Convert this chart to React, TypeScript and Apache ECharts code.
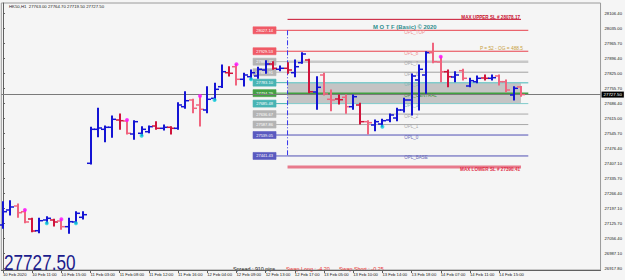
import { useEffect, useRef } from "react";
import * as echarts from "echarts";

const FONT = '"Liberation Sans", Arial, sans-serif';

const symbolName = "HK50,H1";
const timeLabels = [
  "10 Feb 2020", "10 Feb 11:00", "10 Feb 15:00", "11 Feb 03:00", "11 Feb 08:00", "11 Feb 12:00",
  "11 Feb 16:00", "12 Feb 04:00", "12 Feb 09:00", "12 Feb 13:00", "12 Feb 17:00", "13 Feb 05:00",
  "13 Feb 10:00", "13 Feb 14:00", "13 Feb 18:00", "14 Feb 07:00", "14 Feb 11:00", "14 Feb 15:00",
];
const LABEL_STEP = 4;

const priceTicks = [
  28106.4, 28035.0, 27965.7, 27896.4, 27825.0, 27755.7, 27686.4, 27615.0, 27545.7,
  27476.4, 27407.1, 27335.7, 27266.4, 27197.1, 27125.7, 27056.4, 26987.1, 26917.8,
];

const opens = [
  27119.7, 27189.6, 27208.2, 27181.7, 27147.6, 27093.1, 27143.0, 27143.0, 27138.3, 27111.8, 27133.7, 27155.6,
  27407.3, 27565.7, 27565.7, 27575.1, 27609.1, 27604.4, 27543.8, 27547.1, 27554.5, 27581.1, 27570.4, 27575.1,
  27570.4, 27671.1, 27702.3, 27679.0, 27655.7, 27710.2, 27764.3, 27829.5, 27857.5, 27798.8, 27810.9, 27814.2,
  27842.1, 27870.1, 27845.4, 27850.1, 27829.5, 27876.2, 27888.7, 27739.6, 27818.8, 27705.6, 27707.0, 27714.9,
  27671.1, 27679.0, 27601.2, 27585.8, 27590.4, 27609.1, 27618.4, 27655.7, 27702.3, 27795.5, 27818.8, 27922.8,
  27879.4, 27834.2, 27809.5, 27838.9, 27767.6, 27787.6, 27804.9, 27803.5, 27814.2, 27787.6, 27725.6, 27763.0,
];
const highs = [
  27228.3, 27232.9, 27217.6, 27189.6, 27150.9, 27150.9, 27158.4, 27146.2, 27146.2, 27150.9, 27181.7, 27181.7,
  27575.1, 27663.6, 27581.1, 27627.7, 27637.0, 27609.1, 27605.8, 27577.9, 27581.1, 27601.2, 27585.8, 27577.9,
  27689.7, 27741.0, 27705.6, 27720.9, 27764.3, 27780.1, 27865.4, 27857.5, 27868.7, 27826.8, 27842.1, 27854.7,
  27885.5, 27880.8, 27860.8, 27876.2, 27888.7, 27922.8, 27892.0, 27810.9, 27826.8, 27748.9, 27725.6, 27725.6,
  27725.6, 27686.9, 27605.8, 27609.1, 27612.3, 27637.0, 27663.6, 27710.2, 27823.5, 27865.4, 27927.4, 27966.6,
  27904.1, 27842.1, 27834.2, 27845.4, 27803.5, 27814.2, 27818.8, 27818.8, 27818.8, 27795.5, 27764.3, 27764.7,
];
const lows = [
  27104.3, 27166.3, 27155.6, 27130.4, 27088.5, 27083.8, 27127.6, 27115.0, 27099.6, 27081.0, 27127.6, 27147.6,
  27404.0, 27531.2, 27507.9, 27528.4, 27565.7, 27543.8, 27519.1, 27535.9, 27549.9, 27565.7, 27562.5, 27543.8,
  27565.7, 27663.6, 27643.1, 27581.1, 27643.1, 27702.3, 27760.0, 27814.2, 27772.2, 27767.6, 27798.8, 27803.5,
  27826.8, 27845.4, 27838.9, 27826.8, 27810.9, 27873.4, 27736.3, 27659.0, 27725.6, 27652.4, 27683.7, 27640.3,
  27659.0, 27590.4, 27543.8, 27559.2, 27577.9, 27601.2, 27605.8, 27646.4, 27632.4, 27655.7, 27733.5, 27876.2,
  27787.6, 27764.3, 27787.6, 27795.5, 27764.3, 27782.9, 27795.5, 27795.5, 27772.2, 27741.0, 27702.3, 27719.5,
];
const closes = [
  27181.7, 27203.6, 27177.0, 27133.7, 27091.7, 27139.7, 27150.9, 27133.7, 27111.8, 27135.1, 27174.2, 27167.7,
  27565.7, 27571.8, 27575.1, 27612.3, 27605.8, 27547.1, 27601.2, 27565.7, 27577.9, 27570.4, 27575.1, 27570.4,
  27679.0, 27699.0, 27663.6, 27659.0, 27705.6, 27752.2, 27834.2, 27826.8, 27798.8, 27818.8, 27829.5, 27845.4,
  27870.1, 27850.1, 27850.1, 27842.1, 27857.5, 27916.7, 27741.0, 27761.5, 27730.3, 27702.3, 27703.7, 27671.1,
  27717.7, 27601.2, 27596.5, 27601.2, 27605.8, 27632.4, 27655.7, 27702.3, 27814.2, 27845.4, 27922.8, 27880.8,
  27834.2, 27810.9, 27818.8, 27803.5, 27792.3, 27803.5, 27803.5, 27806.3, 27787.6, 27748.9, 27756.8, 27727.5,
];
// u = up bar, d = down bar, p = down bar (light)
const barTones = [
  "u", "u", "p", "p", "d", "u", "u", "d", "p", "u", "u", "u",
  "u", "u", "u", "u", "d", "p", "u", "u", "u", "d", "u", "d",
  "u", "u", "p", "p", "u", "u", "u", "d", "p", "u", "u", "u",
  "u", "d", "u", "d", "u", "u", "d", "u", "p", "p", "d", "p",
  "u", "d", "p", "u", "u", "u", "u", "u", "u", "u", "u", "p",
  "p", "d", "u", "p", "u", "u", "d", "u", "p", "p", "u", "p",
];
const upMarkBars = [3, 8, 17, 27, 32, 60];
const downMarkBars = [6, 10, 19, 29, 34, 52];

const levelNames = ["OPL_TOP", "OPL_8", "OPL_7", "OPL_6", "OPL_5", "OPL_CENTRAL", "OPL_3", "OPL_2", "OPL_1", "OPL_0", "OPL_BASE"];
const levelPrices = [28027.14, 27929.53, 27880.72, 27831.91, 27783.1, 27734.29, 27685.48, 27636.67, 27587.86, 27539.05, 27441.43];
const stopNames = ["MAX UPPER SL", "MAX LOWER SL"];
const stopPrices = [28078.17, 27390.41];
const spreadPips = 910;
const swapLong = -4.2;
const swapShort = -0.25;
const periodText = "P = 52 - OG = 488.5";

const LEVEL_FROM = 39;
const LEVEL_TO = 72;
const ZONE_TO = 71;
const LABEL_AT = 55;

const barColors: Record<string, string> = { u: "#1414d4", d: "#d0143c", p: "#f0647e" };
const lvLine = ["#e8404c", "#e8404c", "#c8c8c8", "#a0a0a0", "#80cccc", "#40a040", "#80cccc", "#a8a8a8", "#a8a8a8", "#5050b4", "#5050b4"];
const lvWidth = [1, 1, 2.5, 1, 1.5, 1.5, 1, 1, 1, 1, 1];
const lvBox = ["#f05a66", "#f05a66", "#b4b4b4", "#b4b4b4", "#48b4b4", "#44a044", "#48b4b4", "#b4b4b4", "#b4b4b4", "#5a5ac0", "#5a5ac0"];
const lvText = ["#f09090", "#f09090", "#a8a8a8", "#a8a8a8", "#80b4b4", "#3c8c3c", "#80b4b4", "#a8a8a8", "#a8a8a8", "#6a6ab8", "#6a6ab8"];

export default function App() {
  const ref = useRef<HTMLDivElement>(null);
  useEffect(() => {
    if (!ref.current) return;
    const chart = echarts.init(ref.current, undefined, { renderer: "svg" });
    const n = closes.length;
    const last = n - 1;
    const bars = closes.map((c, i) => [i, opens[i], highs[i], lows[i], c]);
    const xMin = -0.232;
    const xMax = 81.9;

    const option: any = {
      animation: false,
      backgroundColor: "#f5f5f5",
      textStyle: { fontFamily: FONT },
      grid: { left: 1, right: 22, top: 3, bottom: 10, show: true, borderColor: "#9a9a9a", borderWidth: 1 },
      xAxis: {
        type: "value",
        min: xMin,
        max: xMax,
        splitLine: { show: false },
        axisLine: { lineStyle: { color: "#606060" } },
        axisTick: { customValues: timeLabels.map((_, k) => k * LABEL_STEP), length: 3, lineStyle: { color: "#606060" } },
        axisLabel: {
          customValues: timeLabels.map((_, k) => k * LABEL_STEP),
          formatter: (v: number) => timeLabels[Math.round(v / LABEL_STEP)] ?? "",
          align: "left",
          margin: 2,
          fontSize: 4.2,
          color: "#202020",
          fontFamily: FONT,
        },
      },
      yAxis: {
        type: "value",
        position: "right",
        min: 26909.9,
        max: 28154.4,
        splitLine: { show: false },
        axisLine: { show: true, lineStyle: { color: "#606060" } },
        axisTick: { show: true, customValues: priceTicks, length: 2, lineStyle: { color: "#606060" } },
        axisLabel: {
          customValues: priceTicks,
          formatter: (v: number) => v.toFixed(2),
          margin: 4,
          fontSize: 4.2,
          color: "#202020",
          fontFamily: FONT,
        },
      },
      series: [
        {
          type: "custom",
          name: "zone",
          z: 1,
          data: [[LEVEL_FROM, levelPrices[4], levelPrices[6]]],
          encode: { x: 0, y: [1, 2] },
          renderItem: (_p: any, api: any) => {
            const a = api.coord([LEVEL_FROM, api.value(1)]);
            const b = api.coord([ZONE_TO, api.value(2)]);
            return { type: "rect", shape: { x: a[0], y: a[1], width: b[0] - a[0], height: b[1] - a[1] }, style: { fill: "#c4c4c4" } };
          },
        },
        {
          type: "custom",
          name: "levels",
          z: 2,
          data: levelPrices.map((p, k) => [LEVEL_FROM, p, k]),
          encode: { x: 0, y: 1 },
          renderItem: (params: any, api: any) => {
            const k = params.dataIndex;
            const p = api.value(1);
            const a = api.coord([LEVEL_FROM, p]);
            const b = api.coord([LEVEL_TO, p]);
            const t = api.coord([LABEL_AT, p]);
            const y = a[1];
            const boxR = a[0] - 11.5;
            const boxW = 23;
            const boxH = 7;
            return {
              type: "group",
              children: [
                { type: "line", shape: { x1: a[0], y1: y, x2: b[0], y2: y }, style: { stroke: lvLine[k], lineWidth: lvWidth[k] } },
                { type: "line", shape: { x1: boxR, y1: y, x2: a[0], y2: y }, style: { stroke: lvBox[k], lineWidth: 1 } },
                { type: "rect", shape: { x: boxR - boxW, y: y - boxH / 2, width: boxW, height: boxH }, style: { fill: lvBox[k], stroke: lvBox[k], lineWidth: 0.6 } },
                { type: "text", x: boxR - boxW / 2, y: y, style: { text: p.toFixed(2), fill: "#ffffff", font: `4px ${FONT}`, align: "center", verticalAlign: "middle" } },
                { type: "text", x: t[0], y: y + 2, style: { text: levelNames[k], fill: lvText[k], font: `4.5px ${FONT}`, align: "left", verticalAlign: "middle" } },
              ],
            };
          },
        },
        {
          type: "custom",
          name: "stops",
          z: 2,
          data: stopPrices.map((p, k) => [LEVEL_FROM, p, k]),
          encode: { x: 0, y: 1 },
          renderItem: (params: any, api: any) => {
            const k = params.dataIndex;
            const p = api.value(1);
            const a = api.coord([LEVEL_FROM, p]);
            const b = api.coord([ZONE_TO, p]);
            const upper = k === 0;
            return {
              type: "group",
              children: [
                { type: "line", shape: { x1: a[0], y1: a[1], x2: b[0], y2: b[1] }, style: { stroke: upper ? "#c8102e" : "#e87a8c", lineWidth: upper ? 1 : 3 } },
                {
                  type: "text",
                  x: b[0] - 1,
                  y: upper ? a[1] - 2.3 : a[1] + 2.5,
                  style: { text: `${stopNames[k]} # ${p.toFixed(2)}`, fill: upper ? "#c8102e" : "#e0304a", font: `bold 4.6px ${FONT}`, align: "right", verticalAlign: "middle" },
                },
              ],
            };
          },
        },
        {
          type: "custom",
          name: "start",
          z: 3,
          data: [[LEVEL_FROM, levelPrices[0], levelPrices[levelPrices.length - 1]]],
          encode: { x: 0, y: [1, 2] },
          renderItem: (_p: any, api: any) => {
            const a = api.coord([LEVEL_FROM, api.value(1)]);
            const b = api.coord([LEVEL_FROM, api.value(2)]);
            return { type: "line", shape: { x1: a[0], y1: a[1], x2: b[0], y2: b[1] }, style: { stroke: "#3434ec", lineWidth: 1, lineDash: [5, 2, 1, 2] } };
          },
        },
        {
          type: "custom",
          name: "bars",
          z: 5,
          data: bars,
          encode: { x: 0, y: [1, 2, 3, 4] },
          renderItem: (params: any, api: any) => {
            const i = api.value(0);
            const o = api.coord([i, api.value(1)]);
            const h = api.coord([i, api.value(2)]);
            const l = api.coord([i, api.value(3)]);
            const c = api.coord([i, api.value(4)]);
            const color = barColors[barTones[params.dataIndex]];
            const x = Math.round(h[0]);
            return {
              type: "group",
              children: [
                { type: "line", shape: { x1: x, y1: h[1] - 0.5, x2: x, y2: l[1] + 0.5 }, style: { stroke: color, lineWidth: 2 } },
                { type: "line", shape: { x1: x - 4, y1: o[1], x2: x, y2: o[1] }, style: { stroke: color, lineWidth: 1.5 } },
                { type: "line", shape: { x1: x, y1: c[1], x2: x + 4, y2: c[1] }, style: { stroke: color, lineWidth: 1.5 } },
              ],
            };
          },
          markLine: {
            silent: true,
            symbol: "none",
            lineStyle: { color: "#7a7a7a", width: 1, type: "solid" },
            label: {
              position: "end",
              distance: 1,
              formatter: () => closes[last].toFixed(2),
              backgroundColor: "#000000",
              color: "#ffffff",
              fontSize: 4.4,
              padding: [1, 2, 1, 2],
              fontFamily: FONT,
            },
            data: [{ yAxis: closes[last] }],
          },
        },
        {
          type: "scatter",
          name: "up marks",
          z: 6,
          symbolSize: 4,
          itemStyle: { color: "#ff10ff" },
          data: upMarkBars.map((i) => [i, highs[i]]),
        },
        {
          type: "scatter",
          name: "down marks",
          z: 6,
          symbolSize: 4,
          itemStyle: { color: "#10d0d8" },
          data: downMarkBars.map((i) => [i, lows[i]]),
        },
      ],
      graphic: [
        {
          type: "text",
          x: 9,
          y: 6,
          style: {
            text: `${symbolName}  ${opens[last].toFixed(2)} ${highs[last].toFixed(2)} ${lows[last].toFixed(2)} ${closes[last].toFixed(2)}`,
            fill: "#202020",
            font: `4.3px ${FONT}`,
            verticalAlign: "middle",
          },
        },
        {
          type: "text",
          x: 4,
          y: 262,
          scaleX: 0.78,
          style: { text: closes[last].toFixed(2), fill: "#1c1c8c", font: `22px ${FONT}`, verticalAlign: "middle" },
        },
        {
          type: "text",
          x: 233,
          y: 268.5,
          style: { text: `Spread : ${spreadPips} pips`, fill: "#202020", font: `5.4px ${FONT}`, verticalAlign: "middle" },
        },
        {
          type: "text",
          x: 286,
          y: 268.5,
          style: { text: `Swap Long : ${swapLong.toFixed(2)}`, fill: "#e83030", font: `5.4px ${FONT}`, verticalAlign: "middle" },
        },
        {
          type: "text",
          x: 339,
          y: 268.5,
          style: { text: `Swap Short : ${swapShort.toFixed(2)}`, fill: "#e83030", font: `5.4px ${FONT}`, verticalAlign: "middle" },
        },
        {
          type: "text",
          x: 373,
          y: 26.5,
          style: { text: "M O T F (Basic) © 2020", fill: "#2e8e8e", font: `bold 5.9px ${FONT}`, verticalAlign: "middle" },
        },
        {
          type: "text",
          x: 523,
          y: 48.3,
          style: { text: periodText, fill: "#c8a040", font: `4.8px ${FONT}`, align: "right", verticalAlign: "middle" },
        },
      ],
    };
    chart.setOption(option);
    return () => chart.dispose();
  }, []);
  return <div ref={ref} style={{ position: "absolute", left: 0, top: 0, width: 625, height: 280 }} />;
}
